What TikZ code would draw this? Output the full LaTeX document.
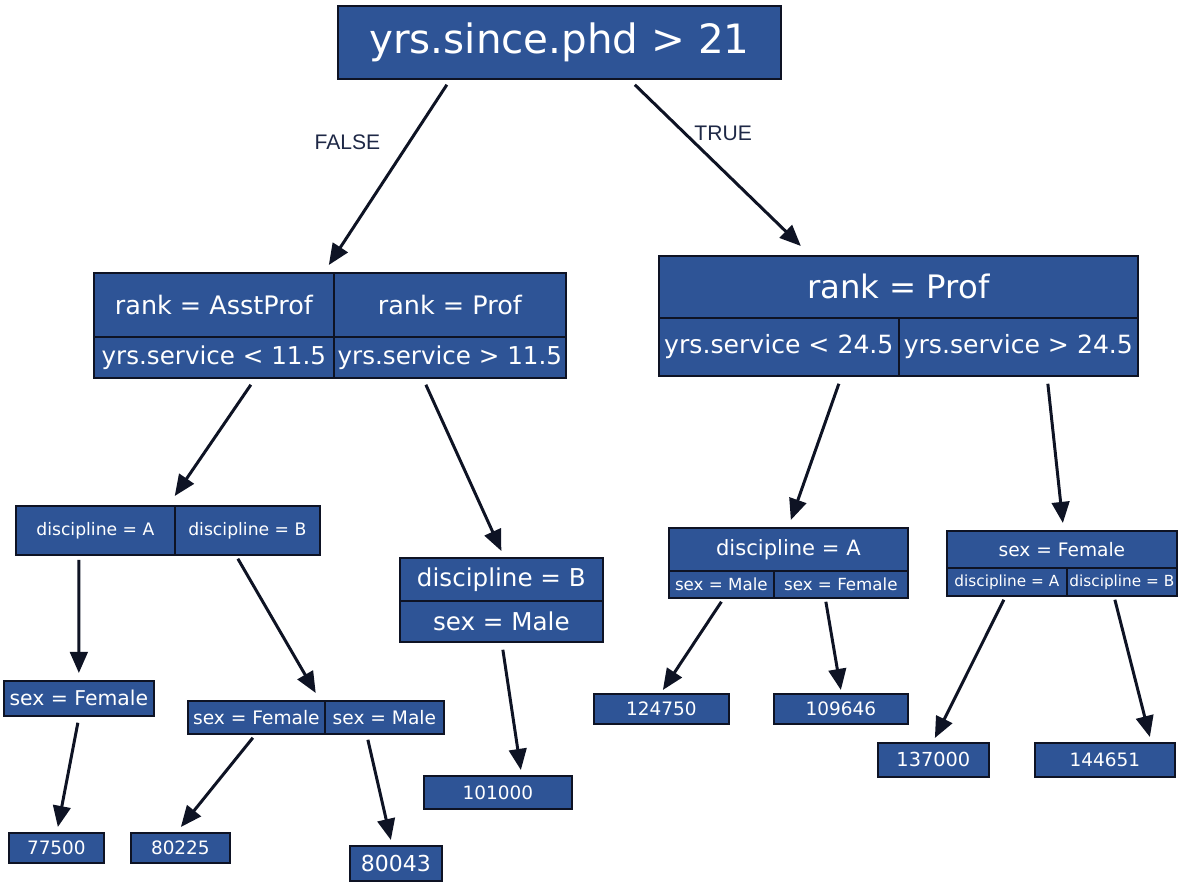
\documentclass[tikz,border=0pt]{standalone}
\usepackage{fontspec}
\setmainfont{DejaVu Sans}
\newfontfamily\labelfont{Liberation Sans}
\usetikzlibrary{arrows.meta}
\definecolor{boxblue}{RGB}{46,84,150}
\definecolor{edgecol}{RGB}{14,19,36}
\definecolor{labelcol}{RGB}{30,40,70}
\newcommand\boxsize[1]{\fontsize{#1}{#1}\selectfont}
\tikzset{
  cell/.style={draw=edgecol, line width=1pt, fill=boxblue, text=white, inner sep=0pt, anchor=north west},
  link/.style={draw=edgecol, line width=1.7pt, -{Triangle[length=12pt,width=10pt]}},
  branch/.style={font=\labelfont\boxsize{12}, text=labelcol}
}

\begin{document}
\begin{tikzpicture}[x=0.02cm,y=-0.02cm]
\useasboundingbox (0,0) rectangle (1189,885);

% root split
\node[cell, minimum width=8.86cm, minimum height=1.46cm, font=\boxsize{23}] (root) at (337,5) {yrs.since.phd > 21};

% FALSE side
\node[cell, minimum width=4.8cm, minimum height=1.28cm, font=\boxsize{14.5}] (lRank1) at (93,272) {rank = AsstProf};
\node[cell, minimum width=4.64cm, minimum height=1.28cm, font=\boxsize{14.5}] (lRank2) at (333,272) {rank = Prof};
\node[cell, minimum width=4.8cm, minimum height=0.82cm, font=\boxsize{14}] (lSvc1) at (93,336) {yrs.service < 11.5};
\node[cell, minimum width=4.64cm, minimum height=0.82cm, font=\boxsize{14}] (lSvc2) at (333,336) {yrs.service > 11.5};

\node[cell, minimum width=3.18cm, minimum height=0.98cm, font=\boxsize{9.8}] (lDiscA) at (15,505) {discipline = A};
\node[cell, minimum width=2.9cm, minimum height=0.98cm, font=\boxsize{9.8}] (lDiscB) at (174,505) {discipline = B};
\node[cell, minimum width=4.06cm, minimum height=0.86cm, font=\boxsize{14}] (mDisc) at (399,557) {discipline = B};
\node[cell, minimum width=4.06cm, minimum height=0.82cm, font=\boxsize{14}] (mSex) at (399,600) {sex = Male};

\node[cell, minimum width=3.0cm, minimum height=0.7cm, font=\boxsize{11.6}] (lFem) at (3,680) {sex = Female};
\node[cell, minimum width=2.74cm, minimum height=0.66cm, font=\boxsize{10.6}] (lFem2) at (187,700) {sex = Female};
\node[cell, minimum width=2.38cm, minimum height=0.66cm, font=\boxsize{10.6}] (lMale2) at (324,700) {sex = Male};

% TRUE side
\node[cell, minimum width=9.58cm, minimum height=1.24cm, font=\boxsize{18.4}] (rRank) at (658,255) {rank = Prof};
\node[cell, minimum width=4.8cm, minimum height=1.16cm, font=\boxsize{14.3}] (rSvc1) at (658,317) {yrs.service < 24.5};
\node[cell, minimum width=4.78cm, minimum height=1.16cm, font=\boxsize{14.3}] (rSvc2) at (898,317) {yrs.service > 24.5};

\node[cell, minimum width=4.78cm, minimum height=0.86cm, font=\boxsize{12}] (rDisc) at (668,527) {discipline = A};
\node[cell, minimum width=2.1cm, minimum height=0.54cm, font=\boxsize{9.5}] (rMale) at (668,570) {sex = Male};
\node[cell, minimum width=2.68cm, minimum height=0.54cm, font=\boxsize{9.5}] (rFemale) at (773,570) {sex = Female};

\node[cell, minimum width=4.6cm, minimum height=0.74cm, font=\boxsize{10.6}] (sFem) at (946,530) {sex = Female};
\node[cell, minimum width=2.4cm, minimum height=0.56cm, font=\boxsize{8.7}] (sDiscA) at (946,567) {discipline = A};
\node[cell, minimum width=2.2cm, minimum height=0.56cm, font=\boxsize{8.7}] (sDiscB) at (1066,567) {discipline = B};

% leaves
\node[cell, minimum width=1.9cm, minimum height=0.6cm, font=\boxsize{10.5}] (v77500) at (8,832) {77500};
\node[cell, minimum width=1.98cm, minimum height=0.6cm, font=\boxsize{10.5}] (v80225) at (130,832) {80225};
\node[cell, minimum width=1.84cm, minimum height=0.7cm, font=\boxsize{12.5}] (v80043) at (349,845) {80043};
\node[cell, minimum width=2.96cm, minimum height=0.66cm, font=\boxsize{10.5}] (v101000) at (423,775) {101000};
\node[cell, minimum width=2.7cm, minimum height=0.6cm, font=\boxsize{10.5}] (v124750) at (593,693) {124750};
\node[cell, minimum width=2.68cm, minimum height=0.6cm, font=\boxsize{10.5}] (v109646) at (773,693) {109646};
\node[cell, minimum width=2.22cm, minimum height=0.68cm, font=\boxsize{11}] (v137000) at (877,742) {137000};
\node[cell, minimum width=2.8cm, minimum height=0.68cm, font=\boxsize{10.5}] (v144651) at (1034,742) {144651};

% branches
\draw[link] ([xshift=-2.25cm,yshift=-0.1cm]root.south) -- node[branch, pos=0.32, left=0.43cm] {FALSE} ([xshift=2.3cm,yshift=0.14cm]lRank1.north);
\draw[link] ([xshift=1.51cm,yshift=-0.1cm]root.south) -- node[branch, pos=0.3, right=0.05cm] {TRUE} ([xshift=-1.95cm,yshift=0.18cm]rRank.north);

\draw[link] ([xshift=0.74cm,yshift=-0.12cm]lSvc1.south) -- ([xshift=-0.02cm,yshift=0.18cm]lDiscA.north east);
\draw[link] ([xshift=-0.48cm,yshift=-0.12cm]lSvc2.south) -- ([yshift=0.12cm]mDisc.north);
\draw[link] ([xshift=1.2cm,yshift=-0.14cm]rSvc1.south) -- ([xshift=0.05cm,yshift=0.14cm]rDisc.north);
\draw[link] ([xshift=0.59cm,yshift=-0.14cm]rSvc2.south) -- ([xshift=0.02cm,yshift=0.14cm]sFem.north);

\draw[link] ([xshift=-0.33cm,yshift=-0.08cm]lDiscA.south) -- ([yshift=0.14cm]lFem.north);
\draw[link] ([xshift=-0.19cm,yshift=-0.06cm]lDiscB.south) -- ([xshift=-0.2cm,yshift=0.14cm]lFem2.north east);
\draw[link] ([xshift=-0.02cm,yshift=-0.12cm]lFem.south) -- ([xshift=0.03cm,yshift=0.1cm]v77500.north);
\draw[link] ([xshift=-0.07cm,yshift=-0.06cm]lFem2.south) -- ([xshift=0.01cm,yshift=0.1cm]v80225.north);
\draw[link] ([xshift=-0.33cm,yshift=-0.1cm]lMale2.south) -- ([xshift=-0.1cm,yshift=0.1cm]v80043.north);
\draw[link] ([xshift=0.03cm,yshift=-0.14cm]mSex.south) -- ([xshift=0.46cm,yshift=0.1cm]v101000.north);

\draw[link] ([yshift=-0.06cm]rMale.south) -- ([xshift=0.03cm,yshift=0.06cm]v124750.north);
\draw[link] ([xshift=-0.3cm,yshift=-0.06cm]rFemale.south) -- ([yshift=0.06cm]v109646.north);
\draw[link] ([xshift=-0.06cm,yshift=-0.06cm]sDiscA.south) -- ([xshift=0.03cm,yshift=0.08cm]v137000.north);
\draw[link] ([xshift=-0.14cm,yshift=-0.06cm]sDiscB.south) -- ([xshift=0.9cm,yshift=0.1cm]v144651.north);
\end{tikzpicture}
\end{document}
